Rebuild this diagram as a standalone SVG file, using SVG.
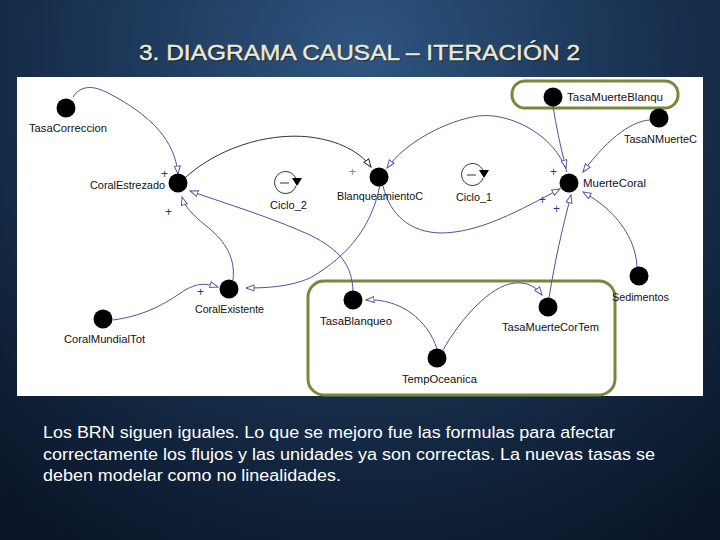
<svg xmlns="http://www.w3.org/2000/svg" width="720" height="540" viewBox="0 0 720 540">
<defs>
<radialGradient id="bg" cx="360" cy="60" r="560" gradientUnits="userSpaceOnUse">
<stop offset="0" stop-color="#2f5580"/>
<stop offset="0.45" stop-color="#1b3656"/>
<stop offset="1" stop-color="#0a1628"/>
</radialGradient>
<marker id="ah" markerWidth="10" markerHeight="9" refX="8.5" refY="3.5" orient="auto" markerUnits="userSpaceOnUse">
<path d="M0.5,0.5 L8.5,3.5 L0.5,6.5 z" fill="#fff" stroke="#5a5aa0" stroke-width="1"/>
</marker>
<marker id="ahk" markerWidth="10" markerHeight="9" refX="8.5" refY="3.5" orient="auto" markerUnits="userSpaceOnUse">
<path d="M0.5,0.5 L8.5,3.5 L0.5,6.5 z" fill="#fff" stroke="#333" stroke-width="1"/>
</marker>
</defs>
<style>
.lbl{font-family:"Liberation Sans",Arial,sans-serif;font-size:11px;fill:#111}
.pl{font-family:"Liberation Sans",Arial,sans-serif;font-size:12px;fill:#3030a0}
.lnk{fill:none;stroke:#5050a0;stroke-width:1;marker-end:url(#ah)}
.dot{fill:#000}
.grp{fill:none;stroke:#76893a;stroke-width:3}
.title{font-family:"Liberation Sans",Arial,sans-serif;font-size:22px;fill:#efe9d4;stroke:#efe9d4;stroke-width:0.4}
.body{font-family:"Liberation Sans",Arial,sans-serif;font-size:16px;fill:#fff}
</style>
<rect x="0" y="0" width="720" height="540" fill="url(#bg)"/>
<text class="title" x="139" y="60" textLength="441" lengthAdjust="spacingAndGlyphs" style="fill:#000;stroke:#000" opacity="0.5" transform="translate(1,1)">3. DIAGRAMA CAUSAL – ITERACIÓN 2</text>
<text class="title" x="139" y="60" textLength="441" lengthAdjust="spacingAndGlyphs">3. DIAGRAMA CAUSAL – ITERACIÓN 2</text>
<rect x="17" y="77" width="686" height="319" fill="#fff"/>

<g id="groups">
<rect class="grp" x="512" y="81" width="166" height="27" rx="13"/>
<rect class="grp" x="308" y="281" width="307" height="114" rx="16"/>
</g>

<g id="connectors">
<path class="lnk" d="M73,97 C80,86 92,84 110,94 C150,115 175,140 178,174"/>
<path class="lnk" style="stroke:#333;marker-end:url(#ahk)" d="M185,178 C215,150 265,132 310,137 C340,141 360,152 371,167"/>
<path class="lnk" d="M567,172 C555,135 510,112 478,116 C445,121 405,143 387,168"/>
<path class="lnk" d="M553,106 C556,125 560,145 566,168"/>
<path class="lnk" d="M651,120 C635,120 610,135 583,172"/>
<path class="lnk" d="M383,186 C390,215 410,232 440,233 C480,233 520,210 560,189"/>
<path class="lnk" d="M549,298 C555,260 562,230 571,195"/>
<path class="lnk" d="M637,267 C636,245 625,225 606,208 C598,201 590,196 583,192"/>
<path class="lnk" d="M353,291 C352,265 340,250 310,235 C270,217 230,205 190,191"/>
<path class="lnk" d="M380,185 C372,225 350,255 310,278 C290,287 265,288 246,288"/>
<path class="lnk" d="M233,280 C236,255 222,238 205,225 C192,214 185,207 182,197"/>
<path class="lnk" d="M113,320 C150,315 170,300 185,290 C198,283 205,283 218,287"/>
<path class="lnk" d="M437,349 C428,320 400,298 366,300"/>
<path class="lnk" d="M443,350 C460,320 490,285 515,283 C528,282 536,287 542,295"/>
</g>

<g id="polarities">
<text class="pl" x="161" y="178">+</text>
<text class="pl" x="165" y="216">+</text>
<text class="pl" x="349" y="176" style="fill:#888">+</text>
<text class="pl" x="550" y="176">+</text>
<text class="pl" x="539" y="204">+</text>
<text class="pl" x="553" y="213">+</text>
<text class="pl" x="197" y="296">+</text>
</g>

<g id="TasaCorreccion"><circle class="dot" cx="66" cy="108" r="9.5"/><text class="lbl" x="29" y="132" textLength="78" lengthAdjust="spacingAndGlyphs">TasaCorreccion</text></g>
<g id="CoralEstrezado"><circle class="dot" cx="178" cy="183" r="9.5"/><text class="lbl" x="90" y="189" textLength="75" lengthAdjust="spacingAndGlyphs">CoralEstrezado</text></g>
<g id="BlanqueamientoC"><circle class="dot" cx="379" cy="177" r="9.5"/><text class="lbl" x="337" y="200" textLength="86" lengthAdjust="spacingAndGlyphs">BlanqueamientoC</text></g>
<g id="MuerteCoral"><circle class="dot" cx="569" cy="183" r="9.5"/><text class="lbl" x="583" y="187" textLength="63" lengthAdjust="spacingAndGlyphs">MuerteCoral</text></g>
<g id="TasaMuerteBlanqu"><circle class="dot" cx="553" cy="97" r="9.5"/><text class="lbl" x="567" y="101" textLength="96" lengthAdjust="spacingAndGlyphs">TasaMuerteBlanqu</text></g>
<g id="TasaNMuerteC"><circle class="dot" cx="659" cy="118" r="9.5"/><text class="lbl" x="624" y="143" textLength="73" lengthAdjust="spacingAndGlyphs">TasaNMuerteC</text></g>
<g id="Sedimentos"><circle class="dot" cx="639" cy="276" r="9.5"/><text class="lbl" x="612" y="301" textLength="57" lengthAdjust="spacingAndGlyphs">Sedimentos</text></g>
<g id="CoralExistente"><circle class="dot" cx="229" cy="289" r="9.5"/><text class="lbl" x="195" y="313" textLength="69" lengthAdjust="spacingAndGlyphs">CoralExistente</text></g>
<g id="CoralMundialTot"><circle class="dot" cx="103" cy="319" r="9.5"/><text class="lbl" x="64" y="343" textLength="81" lengthAdjust="spacingAndGlyphs">CoralMundialTot</text></g>
<g id="TasaBlanqueo"><circle class="dot" cx="353" cy="300" r="9.5"/><text class="lbl" x="320" y="325" textLength="72" lengthAdjust="spacingAndGlyphs">TasaBlanqueo</text></g>
<g id="TempOceanica"><circle class="dot" cx="437" cy="358" r="9.5"/><text class="lbl" x="402" y="383" textLength="75" lengthAdjust="spacingAndGlyphs">TempOceanica</text></g>
<g id="TasaMuerteCorTem"><circle class="dot" cx="548" cy="307" r="9.5"/><text class="lbl" x="502" y="331" textLength="97" lengthAdjust="spacingAndGlyphs">TasaMuerteCorTem</text></g>

<g id="Ciclo_2">
<path d="M296,179 A11,11 0 1 0 296,186" fill="none" stroke="#333" stroke-width="1"/>
<line x1="280" y1="183" x2="289" y2="183" stroke="#333" stroke-width="1"/>
<path d="M292,178 L302,178 L297,186 z" fill="#000"/>
<text class="lbl" x="270" y="209" textLength="37" lengthAdjust="spacingAndGlyphs">Ciclo_2</text>
</g>
<g id="Ciclo_1">
<path d="M483,171 A11,11 0 1 0 483,178" fill="none" stroke="#333" stroke-width="1"/>
<line x1="467" y1="175" x2="476" y2="175" stroke="#333" stroke-width="1"/>
<path d="M479,170 L489,170 L484,178 z" fill="#000"/>
<text class="lbl" x="456" y="201" textLength="36" lengthAdjust="spacingAndGlyphs">Ciclo_1</text>
</g>

<g id="body">
<text class="body" x="43" y="438" textLength="572" lengthAdjust="spacingAndGlyphs">Los BRN siguen iguales. Lo que se mejoro fue las formulas para afectar</text>
<text class="body" x="43" y="460" textLength="612" lengthAdjust="spacingAndGlyphs">correctamente los flujos y las unidades ya son correctas. La nuevas tasas se</text>
<text class="body" x="43" y="481" textLength="298" lengthAdjust="spacingAndGlyphs">deben modelar como no linealidades.</text>
</g>
</svg>
